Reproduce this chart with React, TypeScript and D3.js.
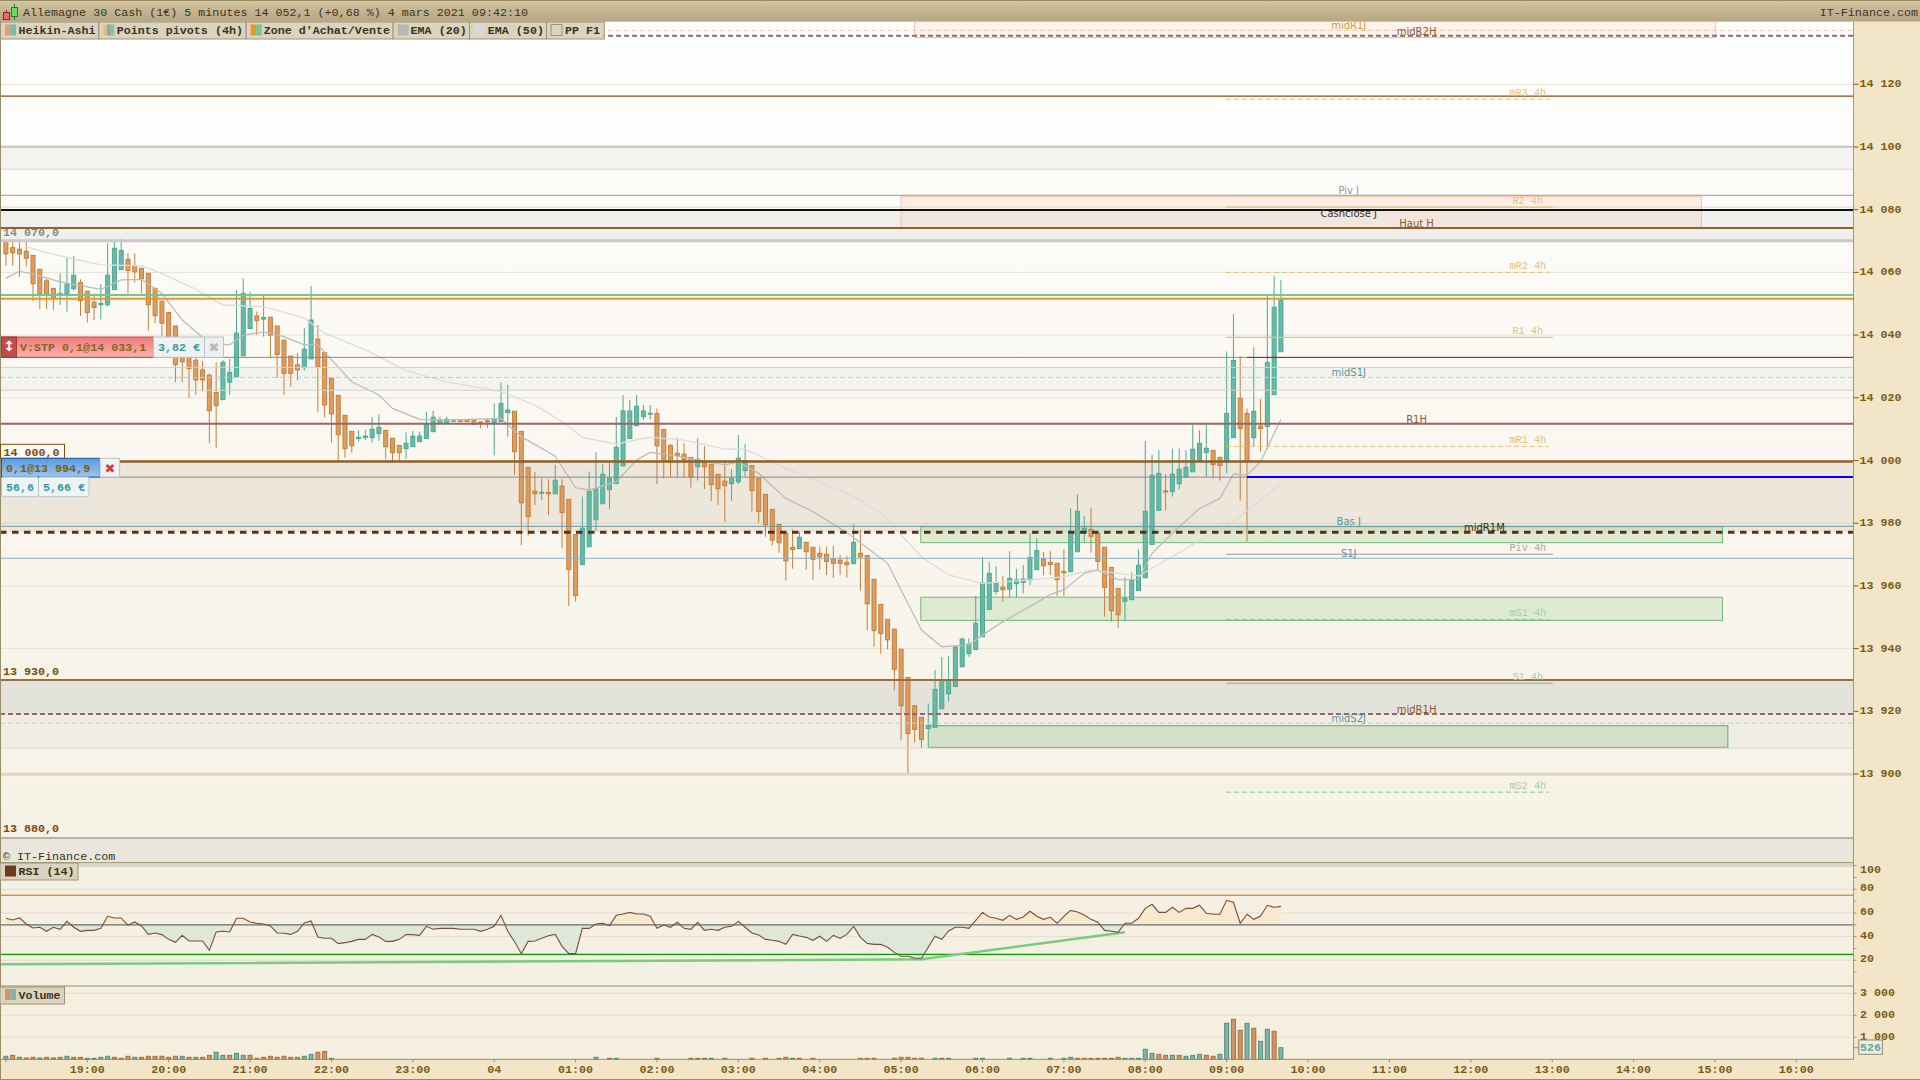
import * as d3 from 'd3';

// Heikin-Ashi 5 min bars, 18:00 -> 09:40
const opens = [
  14070.1,14067.9,14067.4,14066.7,14065.4,14061.0,14057.3,14054.9,14052.8,14053.2,
  14054.8,14056.7,14054.0,14050.5,14049.7,14049.7,14054.5,14060.9,14064.2,14062.1,
  14061.3,14059.7,14054.9,14050.8,14047.2,14042.9,14036.9,14036.0,14032.0,14028.9,
  14027.2,14021.7,14019.4,14025.0,14026.7,14033.4,14042.1,14046.1,14045.1,14045.7,
  14042.9,14038.4,14033.3,14030.5,14029.6,14032.4,14038.7,14034.4,14026.2,14020.8,
  14014.4,14009.3,14007.0,14007.3,14007.3,14008.6,14009.6,14007.1,14004.8,14003.8,
  14004.4,14006.0,14007.0,14009.2,14011.8,14012.1,14012.5,14012.9,14012.9,14012.7,
  14012.3,14012.7,14012.1,14012.4,14015.3,14015.7,14009.3,13997.8,13990.2,13989.7,
  13989.8,13989.4,13991.8,13987.6,13976.4,13966.8,13972.5,13981.1,13986.2,13990.7,
  13992.6,13998.3,14007.0,14011.1,14014.0,14014.9,14015.0,14009.9,14004.8,14002.3,
  14002.0,14001.0,13998.0,13999.3,13998.8,13995.6,13993.4,13992.6,13993.2,13996.8,
  13998.4,13994.3,13989.2,13984.4,13979.6,13976.8,13972.3,13971.9,13973.9,13972.3,
  13970.4,13970.1,13968.6,13968.2,13967.5,13967.1,13970.4,13969.7,13962.1,13954.1,
  13949.3,13946.2,13939.8,13930.8,13921.8,13918.1,13914.5,13914.9,13920.8,13925.6,
  13927.9,13934.2,13938.4,13939.7,13943.8,13952.5,13958.2,13959.6,13959.0,13960.7,
  13961.1,13961.9,13965.2,13968.5,13967.5,13967.2,13964.6,13964.5,13970.9,13977.0,
  13978.0,13976.8,13972.3,13965.9,13959.2,13955.1,13955.6,13958.5,13962.6,13973.2,
  13984.1,13990.3,13990.1,13992.6,13994.7,13996.4,13999.9,14002.5,14003.2,14001.0,
  13999.6,14007.3,14019.8,14015.0,14007.3,14011.0,14010.9,14021.0,14034.7,
];
const closes = [
  14065.9,14066.3,14065.9,14064.5,14056.4,14053.2,14053.0,14051.7,14053.3,14056.2,
  14059.1,14051.0,14047.2,14048.8,14050.1,14059.1,14067.7,14067.0,14060.6,14060.2,
  14058.0,14049.7,14046.2,14043.8,14039.0,14030.6,14031.5,14029.3,14025.7,14025.7,
  14015.9,14017.5,14031.3,14028.1,14040.6,14053.3,14048.5,14044.6,14045.6,14040.0,
  14033.8,14027.8,14027.8,14028.9,14035.5,14044.8,14030.0,14017.7,14014.9,14008.2,
  14003.8,14004.7,14007.4,14007.8,14010.0,14010.6,14004.4,14002.5,14002.5,14005.5,
  14007.8,14007.8,14011.6,14013.8,14012.9,14013.1,14012.9,14012.4,14012.4,14011.6,
  14011.9,14012.3,14013.1,14018.2,14016.1,14002.8,13986.5,13982.1,13989.4,13989.9,
  13989.4,13993.7,13983.4,13965.2,13956.9,13978.4,13990.2,13991.0,13995.6,13994.4,
  14004.2,14015.8,14015.8,14017.3,14015.8,14015.1,14004.7,13999.9,13999.6,14001.6,
  14000.2,13994.7,14000.4,13998.0,13992.3,13991.0,13992.0,13994.3,14000.7,14000.0,
  13990.4,13983.7,13979.5,13974.6,13973.8,13968.0,13971.6,13975.5,13970.9,13968.5,
  13969.3,13967.8,13967.2,13967.2,13966.8,13973.9,13969.3,13954.3,13945.8,13944.8,
  13942.8,13933.4,13921.8,13912.9,13914.2,13911.0,13915.5,13927.0,13930.0,13930.0,
  13940.5,13943.0,13941.4,13948.1,13960.9,13964.0,13961.0,13958.8,13962.4,13961.9,
  13962.2,13969.1,13971.3,13966.4,13966.8,13962.0,13964.2,13977.4,13983.8,13978.4,
  13975.8,13967.8,13959.5,13952.1,13950.8,13956.0,13961.7,13966.6,13983.8,13995.3,
  13995.9,13990.1,13995.6,13997.2,13997.8,14003.6,14005.5,14003.9,13998.7,13998.4,
  14015.0,14031.9,14010.2,13999.9,14015.7,14010.2,14031.3,14048.9,14051.2,
];
const highs = [
  14070.3,14069.8,14070.1,14069.8,14065.4,14061.0,14058.1,14054.9,14059.7,14064.7,
  14065.2,14057.8,14054.0,14053.3,14056.3,14069.3,14070.3,14070.7,14066.1,14066.1,
  14061.3,14059.7,14054.9,14050.8,14047.2,14042.9,14036.9,14036.0,14033.0,14031.7,
  14027.8,14031.3,14032.0,14032.4,14054.4,14058.1,14053.8,14047.5,14052.6,14045.7,
  14042.9,14038.4,14033.3,14034.2,14042.2,14055.7,14043.2,14034.4,14026.2,14020.8,
  14014.4,14009.3,14009.7,14009.7,14013.8,14014.7,14009.6,14007.1,14004.8,14009.0,
  14009.4,14009.2,14015.5,14015.8,14014.0,14014.0,14013.1,14013.1,14013.1,14012.7,
  14012.3,14013.4,14018.2,14024.9,14024.1,14015.7,14009.3,13997.8,13996.3,13994.3,
  13994.0,13998.6,13994.0,13987.6,13976.4,13988.5,13996.5,14002.6,13998.8,13999.3,
  14013.8,14020.9,14019.3,14020.9,14017.7,14017.7,14016.6,14009.9,14005.3,14007.1,
  14005.5,14001.0,14007.1,14004.6,13998.8,13995.6,14000.0,13997.2,14008.1,14005.3,
  13998.4,13994.3,13989.2,13984.4,13979.6,13976.8,13978.0,13977.3,13973.9,13972.3,
  13972.5,13972.5,13972.7,13969.9,13969.5,13979.7,13978.0,13969.7,13962.1,13954.1,
  13949.3,13946.2,13939.8,13930.8,13921.8,13918.1,13922.5,13933.2,13937.3,13937.6,
  13941.2,13943.6,13943.3,13956.8,13969.2,13967.6,13966.3,13963.2,13971.1,13965.4,
  13966.7,13976.9,13975.2,13970.8,13971.1,13967.2,13971.7,13984.7,13989.2,13982.3,
  13985.0,13976.8,13972.3,13965.9,13959.2,13962.7,13964.5,13971.7,14006.2,14001.8,
  14003.3,13995.7,14003.8,14003.8,14003.3,14011.3,14009.7,14011.4,14003.2,14001.0,
  14034.8,14046.7,14033.3,14016.6,14036.1,14019.6,14052.5,14058.8,14057.6,
];
const lows = [
  14062.1,14062.1,14058.6,14061.8,14050.9,14048.3,14048.3,14048.0,14049.6,14047.5,
  14054.2,14046.1,14044.0,14044.8,14045.0,14049.1,14054.5,14060.9,14053.3,14056.7,
  14053.3,14041.4,14043.8,14039.5,14035.8,14025.0,14025.0,14020.0,14020.9,14022.0,
  14005.5,14004.1,14019.4,14020.9,14026.7,14033.4,14042.1,14040.0,14039.5,14032.6,
  14026.4,14020.9,14023.5,14025.5,14028.7,14032.4,14015.6,14013.7,14005.7,13999.6,
  14000.9,14002.5,14006.0,14006.5,14005.7,14006.3,14000.4,13999.6,13999.6,14000.5,
  14004.4,14006.0,14007.0,14009.2,14011.8,14012.1,14012.5,14012.3,14012.3,14011.3,
  14010.2,14010.4,14001.7,14012.4,14007.6,13995.4,13973.0,13976.0,13985.8,13987.4,
  13982.6,13989.4,13972.0,13953.6,13955.0,13966.8,13972.5,13977.5,13986.2,13984.5,
  13992.6,13998.3,14007.0,14011.1,14012.9,14013.1,13992.5,13994.2,13994.6,13994.6,
  13994.6,13991.4,13993.6,13990.9,13987.1,13985.8,13980.5,13987.2,13992.5,13995.0,
  13983.7,13980.2,13975.7,13973.0,13970.6,13961.7,13965.5,13971.9,13965.1,13961.9,
  13965.1,13963.5,13962.5,13963.5,13962.6,13967.1,13958.5,13945.9,13940.6,13938.4,
  13939.8,13926.6,13910.8,13900.2,13910.0,13908.2,13914.5,13914.9,13920.8,13923.0,
  13927.9,13934.2,13937.4,13939.7,13943.8,13952.5,13957.3,13955.0,13956.3,13956.3,
  13957.6,13960.3,13965.2,13963.5,13963.5,13956.8,13956.8,13964.5,13970.9,13974.1,
  13970.6,13965.1,13950.2,13948.6,13946.7,13948.9,13955.6,13958.5,13962.6,13973.2,
  13984.1,13984.1,13988.5,13990.8,13994.7,13996.4,13999.9,13994.8,13994.3,13993.6,
  13995.9,14007.3,13987.2,13974.1,14004.4,14002.8,14003.6,14021.0,14034.7,
];

const ema20Bars = [0,2,5,8,14,17,20,23,26,30,33,35,38,41,44,46,47,51,55,57,61,65,73,76,81,84,86,90,93,95,99,106,108,111,115,119,124,130,135,138,142,144,147,151,154,156,159,161,164,167,169,172,176,179,181,183,185,188];
const ema20Values = [14058.1,14060.4,14058.9,14057.0,14054.6,14057.6,14057.8,14053.3,14044.8,14037.4,14036.9,14040.0,14041.0,14039.5,14036.9,14036.9,14034.5,14025.1,14020.9,14016.6,14013.1,14012.9,14013.4,14007.6,14001.4,13991.3,13990.6,13993.2,14000.2,14002.6,14001.4,13998.6,13999.6,13995.9,13987.9,13983.7,13977.0,13967.2,13945.9,13940.6,13941.2,13944.3,13948.6,13953.4,13957.3,13958.7,13964.0,13965.1,13961.9,13962.1,13970.4,13976.8,13984.7,13987.9,13995.7,13995.4,13999.6,14013.1];
const ema50Bars = [3,5,9,14,20,23,28,32,38,44,47,53,59,65,73,78,82,85,90,94,95,100,106,109,115,120,125,129,135,139,144,151,156,160,167,172,177,181,188];
const ema50Values = [14068.2,14066.9,14064.8,14062.4,14062.1,14059.7,14054.6,14049.6,14049.1,14045.4,14040.6,14035.3,14028.7,14025.1,14022.0,14017.7,14012.4,14007.4,14005.2,14007.1,14007.4,14006.5,14003.6,14003.6,13997.5,13993.2,13988.5,13983.2,13969.3,13963.5,13960.8,13961.9,13962.9,13965.1,13963.2,13969.3,13975.7,13980.5,13992.5];

const rsiValues = [
  55.5,54.1,55.8,50.7,47.3,47.9,44.5,47.9,46.2,52.9,47.9,44.5,45.3,45.3,47.0,57.2,55.8,55.8,49.6,52.4,
  49.0,41.9,43.1,41.7,37.7,35.2,41.1,36.3,36.3,36.3,28.4,43.9,44.5,43.9,55.5,55.5,52.4,51.3,50.7,49.0,
  43.1,42.8,41.9,44.5,51.5,53.2,39.7,38.6,38.6,34.1,34.9,36.0,37.7,37.7,41.9,39.7,36.0,36.0,37.7,41.7,
  41.7,41.1,48.7,46.2,47.0,47.0,47.0,46.2,46.2,46.2,44.5,46.2,48.7,58.0,44.5,35.7,25.6,36.0,36.3,38.6,
  40.8,41.9,31.8,25.6,25.6,47.0,47.0,50.7,51.3,49.3,58.0,59.1,60.5,59.1,59.1,57.2,47.0,49.8,47.9,52.1,
  47.0,46.2,52.1,45.3,46.2,45.3,47.9,48.7,52.9,47.9,43.1,41.4,37.7,36.9,36.0,33.5,41.9,40.5,39.4,36.9,
  40.3,36.0,41.1,38.6,41.9,48.7,39.4,34.3,33.5,33.5,31.0,26.7,23.4,23.4,21.7,21.7,31.0,40.3,37.7,44.8,
  47.9,47.9,47.0,53.8,60.5,56.6,55.5,53.8,58.0,54.6,56.6,61.4,57.2,54.6,56.3,51.3,57.2,62.2,60.8,58.3,
  54.6,52.1,45.3,44.5,43.6,51.3,51.3,55.5,63.9,67.3,60.5,60.5,64.8,60.5,63.9,63.9,66.5,59.7,58.9,58.9,
  70.7,69.0,51.3,58.9,54.6,57.4,66.5,64.8,65.6,
];
const rsiTrendBars = [-1, 135, 165];
const rsiTrendValues = [16.6, 20.8, 43.7];

const volumes = [
  136,180,90,60,90,60,90,60,90,136,90,90,45,45,90,136,90,45,136,90,
  90,136,136,136,90,136,136,90,90,90,180,320,180,180,270,180,180,45,90,136,
  90,136,90,90,136,225,320,360,45,0,0,0,0,0,0,0,0,0,0,0,
  0,0,0,0,0,0,0,0,0,0,0,0,0,0,0,0,0,0,0,0,
  0,0,0,0,0,0,0,90,0,45,45,0,0,0,0,0,45,0,0,0,
  0,45,45,45,45,0,45,0,0,0,45,0,45,0,45,90,45,45,0,45,
  0,0,0,0,0,0,45,45,45,0,0,45,90,90,45,45,0,45,45,45,
  0,0,0,45,45,0,0,0,45,0,45,45,0,0,45,0,45,90,45,45,
  45,45,45,45,90,45,45,45,455,270,225,180,180,180,136,180,225,180,136,225,
  1636,1818,1318,1636,1409,818,1364,1273,526,
];
const volumeDownBars = [1,3,4,6,8,10,11,16,17,18,20,21,22,23,24,25,27,29,30,33,36,37,38,39,40,41,42,43,46,47,89,96,101,103,110,112,114,115,117,119,126,127,128,131,132,133,134,135,138,158,159,160,161,162,163,164,170,171,173,177,178,181,182,184,187];

const hourLabels = ['18:00','19:00','20:00','21:00','22:00','23:00','04','01:00','02:00','03:00','04:00','05:00','06:00','07:00','08:00','09:00','10:00','11:00','12:00','13:00','14:00','15:00','16:00'];
const priceTicks = [14120,14100,14080,14060,14040,14020,14000,13980,13960,13940,13920,13900];
const rsiLabelTicks = [100,80,60,40,20];
const rsiMinorTicks = [90,70,50,30,10];
const volumeTicks = [3000,2000,1000];

const levelLabels = ['midR1J','midR2H','Piv J','Cashclose J','Haut H','midS1J','R1H','Bas J','midR1M','S1J','midR1H','midS2J'];
const levelLabelBars = [198,208,198,198,208,198,208,198,218,198,208,198];
const levelLabelPrices = [14137.2,14135.5,14084.6,14077.5,14074.2,14026.5,14011.7,13979,13977.1,13968.8,13919.1,13916.2];
const pivotLabels = ['mR3 4h','R2 4h','mR2 4h','R1 4h','mR1 4h','Piv 4h','mS1 4h','S1 4h','mS2 4h'];
const pivotLevels = [14115.2,14080.8,14060,14039.3,14004.5,13970.1,13949.3,13928.9,13894.2];
const pivotDashed = [true,false,true,false,true,false,true,false,true];

const W = 1920;
const H = 1080;
const PLOT_R = 1853.5;
const PLOT_TOP = 22;
const MAIN_B = 862.7;
const RSI_B = 986;
const VOL_B = 1059.3;
const MONO = "'Liberation Mono', monospace";
const SANS = "'DejaVu Sans', sans-serif";
const TICK = '#7a5c14';
const TEAL = { fill: '#66baa8', stroke: '#4fa893' };
const ORANGE = { fill: '#dd9c60', stroke: '#c47f3c' };

const x = d3.scaleLinear().domain([0, 264]).range([5.9, 5.9 + 6.782 * 264]);
const y = d3.scaleLinear().domain([13900, 14120]).range([774, 84.3]);
const yRsi = d3.scaleLinear().domain([20, 80]).range([960.3, 889.3]);
const yVol = d3.scaleLinear().domain([0, 3000]).range([VOL_B, 993.3]);

const group = d3.formatLocale({ decimal: ',', thousands: ' ', grouping: [3], currency: ['', ''] }).format(',d');

function seriesPath(bars: number[], values: number[], scale: (v: number) => number) {
  return d3.line<number>()
    .x((b) => x(b))
    .y((_, i) => scale(values[i]))(bars) as string;
}

function HLine({ price, color, width = 1, dash, from, to }: { price: number; color: string; width?: number; dash?: string; from?: number; to?: number }) {
  const yy = y(price);
  return (
    <line
      x1={from === undefined ? 0 : x(from)}
      x2={to === undefined ? PLOT_R : x(to)}
      y1={yy}
      y2={yy}
      stroke={color}
      strokeWidth={width}
      strokeDasharray={dash}
    />
  );
}

function Band({ top, bottom, fill }: { top: number; bottom: number; fill: string }) {
  return <rect x={0} width={PLOT_R} y={y(top)} height={y(bottom) - y(top)} fill={fill} />;
}

function Zone({ from, to, top, bottom, fill, stroke }: { from: number; to: number; top: number; bottom: number; fill: string; stroke: string }) {
  return <rect x={x(from)} width={x(to) - x(from)} y={y(top)} height={y(bottom) - y(top)} fill={fill} stroke={stroke} strokeWidth={1} />;
}

function Candles() {
  const bw = 4;
  return (
    <g>
      {opens.map((o, i) => {
        const c = closes[i];
        const col = c >= o ? TEAL : ORANGE;
        const top = y(Math.max(o, c));
        const h = Math.max(y(Math.min(o, c)) - top, 1);
        return (
          <g key={i}>
            <line x1={x(i)} x2={x(i)} y1={y(highs[i])} y2={y(lows[i])} stroke={col.stroke} strokeWidth={1} />
            <rect x={x(i) - bw / 2} y={top} width={bw} height={h} fill={col.fill} stroke={col.stroke} strokeWidth={1} />
          </g>
        );
      })}
    </g>
  );
}

function Legend() {
  const items = [
    { text: 'Heikin-Ashi', x0: 0, x1: 98.4, tx: 18.4, sw: ['#dfa06a', '#6fbdb0'] },
    { text: 'Points pivots (4h)', x0: 98.4, x1: 245.7, tx: 116.7, sw: ['#e0c080', '#8fa8a0', '#8ac0b0'] },
    { text: "Zone d'Achat/Vente", x0: 245.7, x1: 392.6, tx: 263.7, sw: ['#e89820', '#70c890'] },
    { text: 'EMA (20)', x0: 392.6, x1: 469, tx: 410.6, sw: ['#b8b8b8'] },
    { text: 'EMA (50)', x0: 469, x1: 546, tx: 487.8, sw: ['#d8d8d8'] },
    { text: 'PP F1', x0: 546, x1: 603.7, tx: 565, sw: ['none'] },
  ];
  return (
    <g>
      {items.map((it) => {
        const w = 11 / it.sw.length;
        return (
          <g key={it.text}>
            <rect x={it.x0 + 0.5} y={22} width={it.x1 - it.x0} height={17} fill="#d9d3c0" stroke="#a09272" />
            {it.sw.map((c, i) => (
              <rect key={i} x={it.x0 + 5 + i * w} y={24.5} width={w} height={11} fill={c} stroke={c === 'none' ? '#a09272' : 'none'} />
            ))}
            <text x={it.tx} y={33.5} fontFamily={MONO} fontWeight="bold" fontSize={11.7} fill="#3c3418">{it.text}</text>
          </g>
        );
      })}
    </g>
  );
}

function OrderBoxes() {
  const txt = { fontFamily: MONO, fontWeight: 'bold' as const, fontSize: 11.7 };
  return (
    <g>
      <rect x={1.5} y={337} width={152} height={20.3} fill="url(#redBg)" stroke="#c04848" />
      <rect x={1.5} y={337} width={15} height={20.3} fill="#c44a4a" stroke="#a03838" />
      <text x={9} y={351} textAnchor="middle" fontSize={14} fontWeight="bold" fill="#fff" fontFamily={SANS}>↕</text>
      <text x={20} y={351} {...txt} fill="#8a6420">V:STP 0,1@14 033,1</text>
      <rect x={153.5} y={337} width={51} height={20.3} fill="#eef2f2" stroke="#b8c4c8" />
      <text x={158} y={351} {...txt} fill="#3a9aa0">3,82 €</text>
      <rect x={204.5} y={337} width={19} height={20.3} fill="#eef0f0" stroke="#b8c4c8" />
      <text x={214} y={352} textAnchor="middle" fontSize={13} fontWeight="bold" fill="#b8b8b8" fontFamily={SANS}>✖</text>

      <rect x={0.5} y={444.3} width={64} height={14} fill="#fdfbf6" stroke="#8a4b0c" />
      <text x={3.5} y={455.5} {...txt} fill="#7a4a10">14 000,0</text>
      <rect x={1.5} y={458.3} width={98.5} height={18.7} fill="url(#blueBg)" stroke="#1f5aa8" />
      <text x={6} y={471.5} {...txt} fill="#7a5c14">0,1@13 994,9</text>
      <rect x={100} y={458.3} width={19.6} height={18.7} fill="#eef2f4" stroke="#b8c4c8" />
      <text x={110} y={473} textAnchor="middle" fontSize={13} fontWeight="bold" fill="#d84040" fontFamily={SANS}>✖</text>
      <rect x={1.5} y={477} width={37} height={19.7} fill="#eef3f3" stroke="#b8c4c8" rx={2} />
      <rect x={38.5} y={477} width={50.5} height={19.7} fill="#eef3f3" stroke="#b8c4c8" rx={2} />
      <text x={6} y={490.5} {...txt} fill="#3a9aa0">56,6</text>
      <text x={43} y={490.5} {...txt} fill="#3a9aa0">5,66 €</text>
    </g>
  );
}

export default function App() {
  const rsiPath = d3.line<number>().x((_, i) => x(i)).y((d) => yRsi(d));
  const rsiArea = d3.area<number>().x((_, i) => x(i)).y0(yRsi(50)).y1((d) => yRsi(d));
  const downSet = new Set(volumeDownBars);

  return (
    <svg width={W} height={H} viewBox={`0 0 ${W} ${H}`} style={{ position: 'fixed', left: 0, top: 0, display: 'block' }}>
      <defs>
        <linearGradient id="mainBg" x1="0" y1="0" x2="0" y2="1">
          <stop offset="0" stopColor="#ffffff" />
          <stop offset="0.45" stopColor="#fbf8f2" />
          <stop offset="1" stopColor="#f5f1e4" />
        </linearGradient>
        <linearGradient id="titleBg" x1="0" y1="0" x2="0" y2="1">
          <stop offset="0" stopColor="#d6c6a2" />
          <stop offset="1" stopColor="#b4a583" />
        </linearGradient>
        <linearGradient id="blueBg" x1="0" y1="0" x2="0" y2="1">
          <stop offset="0" stopColor="#5a9ae0" />
          <stop offset="1" stopColor="#9cc6f0" />
        </linearGradient>
        <linearGradient id="redBg" x1="0" y1="0" x2="0" y2="1">
          <stop offset="0" stopColor="#ee7c7c" />
          <stop offset="1" stopColor="#f8b4a8" />
        </linearGradient>
        <clipPath id="rsiAbove"><rect x={0} y={863} width={PLOT_R} height={yRsi(50) - 863} /></clipPath>
        <clipPath id="rsiBelow"><rect x={0} y={yRsi(50)} width={PLOT_R} height={RSI_B - yRsi(50)} /></clipPath>
        <clipPath id="mainClip"><rect x={0} y={PLOT_TOP} width={PLOT_R} height={MAIN_B - PLOT_TOP} /></clipPath>
      </defs>

      {/* backgrounds */}
      <rect width={W} height={H} fill="#f3e6c8" />
      <rect x={0} y={PLOT_TOP} width={PLOT_R} height={MAIN_B - PLOT_TOP} fill="url(#mainBg)" />
      <rect x={0} y={MAIN_B} width={PLOT_R} height={RSI_B - MAIN_B} fill="#f4f1e3" />
      <rect x={0} y={yRsi(75)} width={PLOT_R} height={yRsi(25) - yRsi(75)} fill="#f6f0e4" />
      <rect x={0} y={RSI_B} width={PLOT_R} height={VOL_B - RSI_B} fill="#f5efe0" />

      {/* main panel */}
      <g clipPath="url(#mainClip)">
        <Band top={14100.1} bottom={14092.9} fill="#f3f3f1" />
        <Band top={14079.9} bottom={14070.1} fill="#eff0ec" />
        <Band top={14029.7} bottom={14022.4} fill="#f3f3ee" />
        <Band top={13999.7} bottom={13977.1} fill="#ede6da" />
        <Band top={13930} bottom={13919.1} fill="#e3e3db" />
        <Band top={13919.1} bottom={13908.2} fill="#f0eee3" />
        <Band top={13879.6} bottom={13871} fill="#e9e6dc" />

        {priceTicks.map((t) => <HLine key={t} price={t} color="#e8e2d6" />)}
        <HLine price={13980} color="#dcd4c6" />

        <Zone from={134} to={252.1} top={14140.5} bottom={14134.9} fill="rgba(255,205,185,0.25)" stroke="#ffb8a0" />
        <Zone from={132} to={250} top={14084.3} bottom={14074.3} fill="rgba(255,190,160,0.22)" stroke="#ffb8a0" />
        <Zone from={134.9} to={253.1} top={13978.9} bottom={13973.8} fill="rgba(120,190,110,0.2)" stroke="#70b878" />
        <Zone from={134.9} to={253.1} top={13956.4} bottom={13949} fill="rgba(120,190,110,0.2)" stroke="#70b878" />
        <Zone from={136} to={253.9} top={13915.4} bottom={13908.5} fill="rgba(100,170,100,0.2)" stroke="#60a878" />

        <Candles />

        <path d={seriesPath(ema50Bars, ema50Values, y)} fill="none" stroke="#dcdcdc" strokeWidth={1.3} />
        <path d={seriesPath(ema20Bars, ema20Values, y)} fill="none" stroke="#bcbcbc" strokeWidth={1.3} />

        <HLine price={14137.2} color="#e8cdb0" dash="5,3" />
        <HLine price={14135.5} color="#966a6c" width={2} dash="5,3" />
        <HLine price={14116.2} color="#8a4b0c" width={1.2} />
        <HLine price={14100.1} color="#c8c4bc" width={2} />
        <HLine price={14092.9} color="#d8d4d0" />
        <HLine price={14084.6} color="#999999" />
        <HLine price={14080.8} color="#dcd8d0" />
        <HLine price={14079.9} color="#111111" width={2} />
        <HLine price={14074.2} color="#8f6030" width={2} />
        <HLine price={14070.1} color="#c8c8c8" width={3} />
        <HLine price={14052.8} color="#70c890" width={2} />
        <HLine price={14051.6} color="#e89820" width={2} />
        <HLine price={14032.9} color="#888888" to={183} />
        <HLine price={14032.9} color="#a00000" from={183} />
        <HLine price={14029.7} color="#d4d2cc" />
        <HLine price={14026.5} color="#b8cce0" dash="5,3" />
        <HLine price={14022.4} color="#d4d2cc" />
        <HLine price={14011.7} color="#9a6468" width={2} />
        <HLine price={13999.7} color="#8f5f2a" width={2.5} />
        <HLine price={13994.7} color="#888888" to={183} />
        <HLine price={13994.7} color="#0000ff" width={2} from={183} />
        <HLine price={13979} color="#6a9aa0" />
        <HLine price={13977.1} color="#5a3010" width={3} dash="6.5,5.5" />
        <HLine price={13968.8} color="#8ab0c8" />
        <HLine price={13930} color="#996f3f" width={2} />
        <HLine price={13919.1} color="#96666c" width={2} dash="5,3" />
        <HLine price={13916.2} color="#c0cede" dash="5,3" />
        <HLine price={13908.2} color="#dedcd4" />
        <HLine price={13899.9} color="#ddd6c0" width={3} />
        <HLine price={13879.6} color="#b4b4a8" width={2} />

        {pivotLevels.map((p, i) => (
          <HLine
            key={pivotLabels[i]}
            price={p}
            from={179.9}
            to={pivotDashed[i] ? 227.5 : 228.1}
            color={i < 5 ? '#e2c080' : i === 5 ? '#9a9a9a' : '#90c0a8'}
            dash={pivotDashed[i] ? '5,3' : undefined}
            width={pivotDashed[i] ? 1 : 1.2}
          />
        ))}

        {pivotLabels.map((t, i) => (
          <text key={t} x={x(224.4)} y={y(pivotLevels[i]) - 5.5} textAnchor="middle" dominantBaseline="central" fontFamily={MONO} fontSize={10.2}
            fill={i < 5 ? '#e2c080' : i === 5 ? '#a8a8a8' : '#a4cdb0'}>{t}</text>
        ))}
        {levelLabels.map((t, i) => {
          const color = /^(Piv)/.test(t) ? '#999999'
            : t === 'Cashclose J' ? '#333333'
            : t === 'midR1J' ? '#c8a040'
            : /(S1J|S2J|Bas J)/.test(t) ? '#5a95a0'
            : t === 'midR1M' ? '#4a2a10' : '#8a5a2a';
          return (
            <text key={t} x={x(levelLabelBars[i])} y={y(levelLabelPrices[i]) - 4.5} textAnchor="middle" dominantBaseline="central" fontFamily={SANS} fontSize={10} fill={color}>{t}</text>
          );
        })}

        <text x={3} y={236} fontFamily={MONO} fontWeight="bold" fontSize={11.7} fill="#8a8a86">14 070,0</text>
        <text x={3} y={675} fontFamily={MONO} fontWeight="bold" fontSize={11.7} fill="#7a4a10">13 930,0</text>
        <text x={3} y={832} fontFamily={MONO} fontWeight="bold" fontSize={11.7} fill="#7a4a10">13 880,0</text>
        <text x={3} y={860} fontFamily={MONO} fontSize={11.7} fill="#333322">© IT-Finance.com</text>
      </g>

      {/* RSI panel */}
      <rect x={0} y={863.5} width={PLOT_R} height={3.5} fill="#ddd6c0" />
      {[80, 60, 40, 20].map((t) => (
        <line key={t} x1={0} x2={PLOT_R} y1={yRsi(t)} y2={yRsi(t)} stroke="#e4ddce" />
      ))}
      <path d={rsiArea(rsiValues) as string} fill="#f8e8cc" clipPath="url(#rsiAbove)" />
      <path d={rsiArea(rsiValues) as string} fill="#dfe8d8" clipPath="url(#rsiBelow)" />
      <line x1={0} x2={PLOT_R} y1={yRsi(75)} y2={yRsi(75)} stroke="#c06810" strokeWidth={1} />
      <line x1={0} x2={PLOT_R} y1={yRsi(50)} y2={yRsi(50)} stroke="#6a6a70" strokeWidth={1.2} />
      <line x1={0} x2={PLOT_R} y1={yRsi(25)} y2={yRsi(25)} stroke="#00a000" strokeWidth={1.2} />
      <path d={seriesPath(rsiTrendBars, rsiTrendValues, yRsi)} fill="none" stroke="#78cc80" strokeWidth={2.5} />
      <path d={rsiPath(rsiValues) as string} fill="none" stroke="#74503c" strokeWidth={1.1} />

      {/* volume panel */}
      {volumeTicks.map((t) => (
        <line key={t} x1={0} x2={PLOT_R} y1={yVol(t)} y2={yVol(t)} stroke="#e4ddce" />
      ))}
      {volumes.map((v, i) => {
        if (v === 0) return null;
        const down = downSet.has(i);
        return (
          <rect key={i} x={x(i) - 2} y={yVol(v)} width={4} height={VOL_B - yVol(v)}
            fill={down ? '#cf9468' : '#83b3a8'} stroke={down ? '#a87040' : '#4f8f80'} strokeWidth={1} />
        );
      })}

      {/* panel borders */}
      <line x1={0} x2={PLOT_R} y1={MAIN_B} y2={MAIN_B} stroke="#9a8c66" strokeWidth={1} />
      <line x1={0} x2={PLOT_R} y1={RSI_B} y2={RSI_B} stroke="#9a8c66" strokeWidth={1} />
      <line x1={0} x2={PLOT_R} y1={VOL_B} y2={VOL_B} stroke="#9a8c66" strokeWidth={1} />
      <line x1={PLOT_R} x2={PLOT_R} y1={PLOT_TOP} y2={VOL_B} stroke="#a89868" strokeWidth={1} />
      <line x1={0.5} x2={0.5} y1={0} y2={H} stroke="#9a8c66" />
      <line x1={0} x2={W} y1={1079.5} y2={1079.5} stroke="#9a8c66" />

      {/* title bar */}
      <rect x={0} y={0} width={W} height={21.5} fill="url(#titleBg)" />
      <line x1={0} x2={W} y1={0.5} y2={0.5} stroke="#9a8c66" />
      <line x1={6.5} x2={6.5} y1={10} y2={20} stroke="#7a3030" />
      <rect x={3.5} y={12.5} width={6} height={7} fill="#f06868" stroke="#7a3030" />
      <line x1={14.5} x2={14.5} y1={4} y2={20} stroke="#208020" />
      <rect x={11.5} y={7.5} width={6} height={9} fill="#60e060" stroke="#208020" />
      <text x={23} y={15.5} fontFamily={MONO} fontSize={11.7} fill="#3a3420">Allemagne 30 Cash (1€) 5 minutes 14 052,1 (+0,68 %) 4 mars 2021 09:42:10</text>
      <text x={1918} y={15.5} textAnchor="end" fontFamily={MONO} fontSize={11.7} fill="#3a3420">IT-Finance.com</text>

      <Legend />
      <OrderBoxes />
      <rect x={0} y={863} width={78} height={17} fill="#d9d3c0" stroke="#a09272" />
      <rect x={5} y={865.5} width={11} height={11} fill="#6e3a20" />
      <text x={18.4} y={875} fontFamily={MONO} fontWeight="bold" fontSize={11.7} fill="#3c3418">RSI (14)</text>
      <rect x={0} y={987} width={64.5} height={17} fill="#d9d3c0" stroke="#a09272" />
      <rect x={5} y={989} width={5.5} height={11} fill="#cf9468" />
      <rect x={10.5} y={989} width={5.5} height={11} fill="#83b3a8" />
      <text x={18.4} y={999} fontFamily={MONO} fontWeight="bold" fontSize={11.7} fill="#3c3418">Volume</text>

      {/* y axes */}
      {priceTicks.map((t) => (
        <g key={t}>
          <line x1={PLOT_R} x2={PLOT_R + 5} y1={y(t)} y2={y(t)} stroke={TICK} />
          <text x={1859.5} y={y(t)} dominantBaseline="central" fontFamily={MONO} fontWeight="bold" fontSize={11.7} fill={TICK}>{group(t)}</text>
        </g>
      ))}
      {[...rsiLabelTicks, ...rsiMinorTicks].map((t) => (
        <line key={t} x1={PLOT_R} x2={PLOT_R + 3} y1={yRsi(t)} y2={yRsi(t)} stroke="#a89868" />
      ))}
      {rsiLabelTicks.map((t) => (
        <text key={t} x={1860} y={t === 100 ? 870 : yRsi(t) - 1} dominantBaseline="central" fontFamily={MONO} fontWeight="bold" fontSize={11.7} fill={TICK}>{t}</text>
      ))}
      {volumeTicks.map((t) => (
        <g key={t}>
          <line x1={PLOT_R} x2={PLOT_R + 3} y1={yVol(t)} y2={yVol(t)} stroke="#a89868" />
          <text x={1860} y={yVol(t) - 0.5} dominantBaseline="central" fontFamily={MONO} fontWeight="bold" fontSize={11.7} fill={TICK}>{group(t)}</text>
        </g>
      ))}
      <line x1={PLOT_R} x2={1859} y1={yVol(526)} y2={yVol(526)} stroke="#6aa0a0" />
      <rect x={1858.8} y={1040} width={23.6} height={14.3} fill="#eeeee2" stroke="#8a8a70" />
      <text x={1870.6} y={1047.5} textAnchor="middle" dominantBaseline="central" fontFamily={MONO} fontWeight="bold" fontSize={11.7} fill="#6aa0a0">{volumes[188]}</text>

      {/* time axis */}
      {hourLabels.map((label, i) => {
        const xx = x(i * 12);
        return (
          <g key={i}>
            <line x1={xx} x2={xx} y1={VOL_B} y2={VOL_B + 3} stroke="#9a8c66" />
            {i > 0 && <text x={xx} y={1069.5} textAnchor="middle" dominantBaseline="central" fontFamily={MONO} fontWeight="bold" fontSize={11.7} fill={TICK}>{label}</text>}
          </g>
        );
      })}
    </svg>
  );
}
